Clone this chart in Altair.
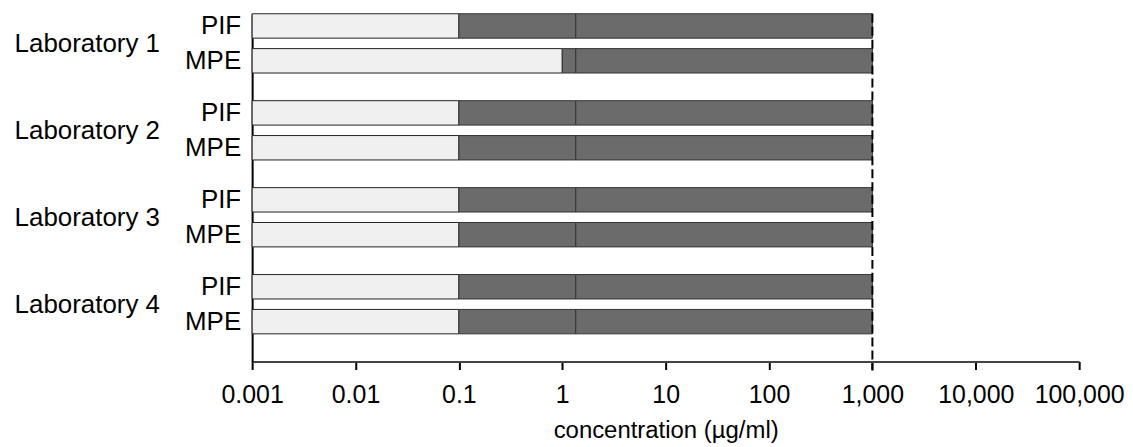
import altair as alt
import pandas as pd

labs = ["Laboratory 1", "Laboratory 2", "Laboratory 3", "Laboratory 4"]
samples = ["PIF", "MPE"]
# one entry per bar, order: Lab1 PIF, Lab1 MPE, Lab2 PIF, ...
bar_start = [0.001, 0.001, 0.001, 0.001, 0.001, 0.001, 0.001, 0.001]
light_end = [0.1, 1.0, 0.1, 0.1, 0.1, 0.1, 0.1, 0.1]
seam = [1.35, 1.35, 1.35, 1.35, 1.35, 1.35, 1.35, 1.35]
dark_end = [1000, 1000, 1000, 1000, 1000, 1000, 1000, 1000]
cutoff = [1000]
tick_values = [0.001, 0.01, 0.1, 1, 10, 100, 1000, 10000, 100000]
tick_labels = ["0.001", "0.01", "0.1", "1", "10", "100", "1,000", "10,000", "100,000"]

rows = []
i = 0
for lab in labs:
    for s in samples:
        rows.append(dict(lab=lab, sample=s, seg="light", lo=bar_start[i], hi=light_end[i]))
        rows.append(dict(lab=lab, sample=s, seg="dark1", lo=light_end[i], hi=seam[i]))
        rows.append(dict(lab=lab, sample=s, seg="dark2", lo=seam[i], hi=dark_end[i]))
        i += 1
bars_df = pd.DataFrame(rows)
labels_df = pd.DataFrame([dict(lab=l, sample=s) for l in labs for s in samples])
rule_df = pd.DataFrame({"cut": cutoff})

FONT = "Liberation Sans"
label_expr = "{}[indexof({}, datum.value)]".format(
    "[" + ",".join("'%s'" % t for t in tick_labels) + "]",
    "[" + ",".join(repr(v) for v in tick_values) + "]",
)

xscale = alt.Scale(type="log", domain=[0.001, 100000], nice=False)
yenc = alt.Y("lab:N", sort=labs, scale=alt.Scale(paddingInner=0, paddingOuter=0),
             axis=alt.Axis(title=None, ticks=False, domainColor="black", domainWidth=2,
                           labelFontSize=26, labelFont=FONT, labelColor="black",
                           labelPadding=93, labelOffset=-13.5, labelLimit=300))
yoff = alt.YOffset("sample:N", sort=samples,
                   scale=alt.Scale(paddingInner=0.3, paddingOuter=0.397, align=0))

bars = alt.Chart(bars_df).mark_bar(strokeWidth=1).encode(
    x=alt.X("lo:Q", scale=xscale,
            axis=alt.Axis(values=tick_values, labelExpr=label_expr, grid=False,
                          domainColor="#444", domainWidth=2, tickColor="black",
                          tickSize=8, tickWidth=2, labelFontSize=25, labelFont=FONT,
                          labelColor="black", labelPadding=13, labelFlush=False,
                          labelOverlap=False, title="concentration (µg/ml)",
                          titleFontSize=24, titleFont=FONT, titleFontWeight="normal",
                          titleColor="black", titlePadding=11)),
    x2="hi:Q",
    y=yenc,
    yOffset=yoff,
    color=alt.Color("seg:N", scale=alt.Scale(domain=["light", "dark1", "dark2"],
                                             range=["#f0f0f0", "#6b6b6b", "#6b6b6b"]),
                    legend=None),
    stroke=alt.Stroke("seg:N", scale=alt.Scale(domain=["light", "dark1", "dark2"],
                                               range=["#222222", "#333333", "#333333"]),
                      legend=None),
)

texts = alt.Chart(labels_df).mark_text(align="right", baseline="middle", fontSize=26,
                                       font=FONT, color="black").encode(
    x=alt.value(-11),
    y=alt.Y("lab:N", sort=labs),
    yOffset=alt.YOffset("sample:N", sort=samples),
    text="sample:N",
)

rule = alt.Chart(rule_df).mark_rule(color="black", strokeWidth=2, strokeDash=[9, 4]).encode(
    x=alt.X("cut:Q", scale=xscale),
    y=alt.value(0),
    y2=alt.value(358),
)

chart = alt.layer(bars, rule, texts).properties(
    width=830, height=349,
    padding={"left": 6, "top": 4, "right": 0, "bottom": 0},
).configure_view(stroke=None)

chart.save("out.html", embed_options={"renderer": "svg", "actions": False})
